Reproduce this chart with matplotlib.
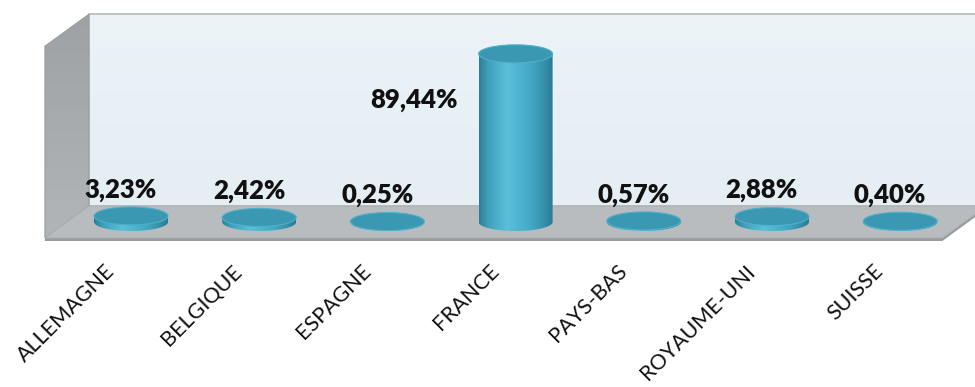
import numpy as np
import matplotlib
matplotlib.use("Agg")
import matplotlib.pyplot as plt
from matplotlib.patches import Polygon, Ellipse, PathPatch
from matplotlib.path import Path
from matplotlib.colors import LinearSegmentedColormap

# ---- data ----
categories = ["ALLEMAGNE", "BELGIQUE", "ESPAGNE", "FRANCE", "PAYS-BAS", "ROYAUME-UNI", "SUISSE"]
values = [3.23, 2.42, 0.25, 89.44, 0.57, 2.88, 0.40]
value_labels = [f"{v:.2f}%".replace(".", ",") for v in values]

# ---- geometry (axis units: x = category index, y = percent) ----
W, H = 975, 387
PX_X = 128.2          # pixels per category
PX_Y = 1.88           # pixels per percent
X0_PX, Y0_PX = 131, 222
YMAX = 102            # top of the walls
DX, DY = 22 / PX_X, 16 / PX_Y     # half depth of the 3-D box
RX, RY = 37 / PX_X, 9 / PX_Y      # cylinder ellipse radii

fig = plt.figure(figsize=(W / 100, H / 100), dpi=100)
ax = fig.add_axes([0, 0, 1, 1])
xlim = (-X0_PX / PX_X, (W - X0_PX) / PX_X)
ylim = ((Y0_PX - H) / PX_Y, Y0_PX / PX_Y)
ax.set_axis_off()

n = len(categories)
xl, xr = -0.5, n - 0.5

# back wall with a soft vertical gradient
back = Polygon([(xl + DX, DY), (xr + DX, DY), (xr + DX, YMAX + DY), (xl + DX, YMAX + DY)],
               closed=True, facecolor="none", edgecolor="#c0c3c5", lw=1.4, zorder=2)
ax.add_patch(back)
wall_cmap = LinearSegmentedColormap.from_list("wall", ["#e4eef3", "#ebf3f7"])
im = ax.imshow(np.linspace(0, 1, 64).reshape(-1, 1), cmap=wall_cmap, origin="lower",
               extent=[xl + DX, xr + DX, DY, YMAX + DY], aspect="auto", zorder=1)
im.set_clip_path(back)

# left side wall
left = Polygon([(xl - DX, -DY), (xl + DX, DY), (xl + DX, YMAX + DY), (xl - DX, YMAX - DY)],
               closed=True, facecolor="none", edgecolor="#9a9ea1", lw=0.8, zorder=3)
ax.add_patch(left)
side_cmap = LinearSegmentedColormap.from_list("side", ["#b1b5b8", "#9ea2a5"])
im2 = ax.imshow(np.linspace(0, 1, 64).reshape(-1, 1), cmap=side_cmap, origin="lower",
                extent=[xl - DX, xl + DX, -DY, YMAX + DY], aspect="auto", zorder=2)
im2.set_clip_path(left)

# floor slab
t = 3 / PX_Y
ax.add_patch(Polygon([(xl - DX, -DY - t), (xr - DX, -DY - t), (xr + DX, DY - t), (xr + DX, DY),
                      (xr - DX, -DY), (xl - DX, -DY)],
                     closed=True, facecolor="#989c9f", edgecolor="none", zorder=3))
ax.add_patch(Polygon([(xl + DX, DY), (xr + DX, DY), (xr - DX, -DY), (xl - DX, -DY)],
                     closed=True, facecolor="#b8bcbf", edgecolor="#a9adb0", lw=0.6, zorder=3))

# cylinders
body_cmap = LinearSegmentedColormap.from_list(
    "body", [(0.0, "#2b7f97"), (0.12, "#3f9fba"), (0.38, "#5bc0dc"),
             (0.7, "#43a8c4"), (0.9, "#358ea8"), (1.0, "#2a7890")])
theta = np.linspace(np.pi, 2 * np.pi, 60)
for i, v in enumerate(values):
    bx = i + RX * np.cos(theta)
    by = RY * np.sin(theta)
    verts = [(i - RX, v)] + list(zip(bx, by)) + [(i + RX, v), (i - RX, v)]
    path = Path(verts, closed=True)
    body = PathPatch(path, facecolor="none", edgecolor="none", zorder=5)
    ax.add_patch(body)
    grad = ax.imshow(np.linspace(0, 1, 128).reshape(1, -1), cmap=body_cmap,
                     extent=[i - RX, i + RX, -RY, v + RY], aspect="auto", zorder=5)
    grad.set_clip_path(body)
    ax.add_patch(Ellipse((i, v), 2 * RX, 2 * RY, facecolor="#3b98b3",
                         edgecolor="#4fb0cb", lw=0.8, zorder=6))

# value labels
lab_font = dict(family=["Lato", "DejaVu Sans"], fontweight="heavy", fontsize=18.5, color="#111111")
for i, (v, s) in enumerate(zip(values, value_labels)):
    if v > 60:
        ax.text(i - 0.79, v * 0.68, s, ha="center", va="baseline", zorder=8, **lab_font)
    else:
        ax.text(i - 0.08, v + 7.5, s, ha="center", va="bottom", zorder=8, **lab_font)

# category labels
tick_y = (Y0_PX - 261) / PX_Y
for i, c in enumerate(categories):
    ax.text(i - 27 / PX_X, tick_y, c, rotation=45, rotation_mode="anchor",
            ha="right", va="top", fontsize=15.5, family=["Lato", "DejaVu Sans"],
            color="#111111", zorder=8)

ax.set_xlim(*xlim)
ax.set_ylim(*ylim)
fig.savefig("out.png", dpi=100, facecolor="white")
